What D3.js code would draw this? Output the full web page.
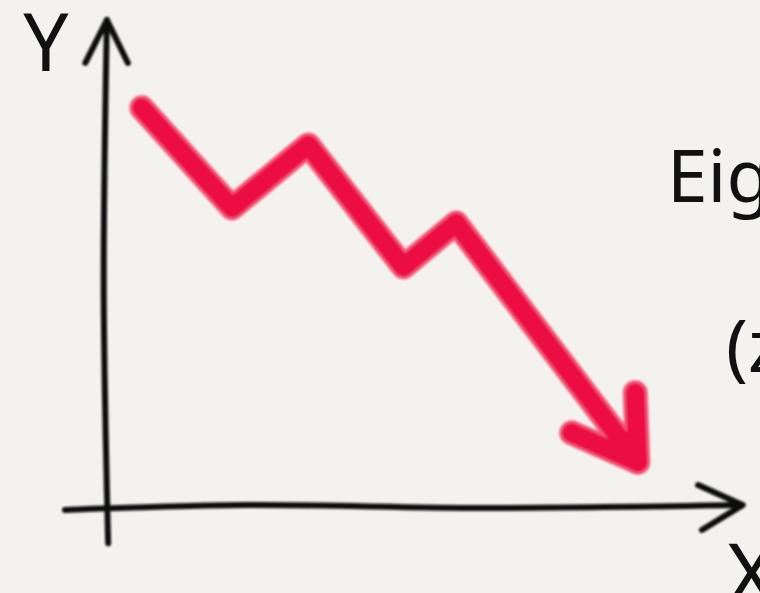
<!DOCTYPE html>
<html lang="en">
<head>
<meta charset="UTF-8">
<title>Decreasing trend sketch</title>
<script src="https://cdn.jsdelivr.net/npm/d3@7"></script>
<style>
  html, body { margin: 0; padding: 0; background: #f3f2ee; overflow: hidden; }
</style>
</head>
<body>
<svg id="chart" width="760" height="593"></svg>
<script>
// trend values (data units, x 0..10, y 0..10)
var trendX = [0.58, 2.0, 3.2, 4.7, 5.53, 8.39];
var trendY = [8.2, 6.15, 7.44, 4.94, 5.84, 0.94];
// arrowhead on the end of the trend: left wing, tip, right wing
var headX = [7.35, 8.39, 8.35];
var headY = [1.54, 0.94, 2.36];

// hand drawn axes
var yAxisX = [0.03, -0.02, 0.05];
var yAxisY = [10.0, 4.5, -0.72];
var yHeadX = [-0.31, 0.03, 0.36];
var yHeadY = [9.12, 10.0, 9.12];
var xAxisX = [-0.63, 2.2, 6.0, 10.04];
var xAxisY = [-0.04, 0.06, 0.0, 0.06];
var xHeadX = [9.34, 10.04, 9.4];
var xHeadY = [0.47, 0.06, -0.45];

var labels = ["Y", "X", "Eigenvalues", "(z)"];

var svg = d3.select("#chart");

var x = d3.scaleLinear().domain([0, 10]).range([105, 740]);
var y = d3.scaleLinear().domain([0, 10]).range([508, 20]);

function pts(xs, ys) {
    return xs.map(function(v, i) { return [v, ys[i]]; });
}

var line = d3.line()
    .x(function(d) { return x(d[0]); })
    .y(function(d) { return y(d[1]); });
var curvy = d3.line()
    .x(function(d) { return x(d[0]); })
    .y(function(d) { return y(d[1]); })
    .curve(d3.curveCatmullRom);

var defs = svg.append("defs");
defs.append("filter").attr("id", "soft")
    .append("feGaussianBlur").attr("stdDeviation", 0.8);

// axes
var axes = svg.append("g")
    .attr("fill", "none")
    .attr("stroke", "#111")
    .attr("stroke-width", 6)
    .attr("stroke-linecap", "round")
    .attr("stroke-linejoin", "round")
    .attr("filter", "url(#soft)");

axes.append("path").attr("d", curvy(pts(yAxisX, yAxisY)));
axes.append("path").attr("d", line(pts(yHeadX, yHeadY)));
axes.append("path").attr("d", curvy(pts(xAxisX, xAxisY)));
axes.append("path").attr("d", line(pts(xHeadX, xHeadY)));

// red trend arrow
var trend = svg.append("g")
    .attr("fill", "none")
    .attr("stroke-linecap", "round")
    .attr("stroke-linejoin", "round")
    .attr("filter", "url(#soft)");

[pts(trendX, trendY), pts(headX, headY)].forEach(function(p) {
    trend.append("path").attr("d", line(p))
        .attr("stroke", "#f25b7c").attr("stroke-width", 25);
});
[pts(trendX, trendY), pts(headX, headY)].forEach(function(p) {
    trend.append("path").attr("d", line(p))
        .attr("stroke", "#ec0f43").attr("stroke-width", 19);
});

// labels
var font = "'Noto Sans', 'Open Sans', sans-serif";
svg.append("text").attr("x", 46).attr("y", 71)
    .attr("text-anchor", "middle")
    .attr("font-family", font).attr("font-size", 80)
    .attr("fill", "#111").text(labels[0]);
svg.append("text").attr("x", 727).attr("y", 604)
    .attr("font-family", font).attr("font-size", 84)
    .attr("fill", "#111").text(labels[1]);
svg.append("text").attr("x", 667).attr("y", 202)
    .attr("font-family", font).attr("font-size", 73)
    .attr("fill", "#111").text(labels[2]);
svg.append("text").attr("x", 726).attr("y", 372)
    .attr("font-family", font).attr("font-size", 73)
    .attr("fill", "#111").text(labels[3]);
</script>
</body>
</html>
